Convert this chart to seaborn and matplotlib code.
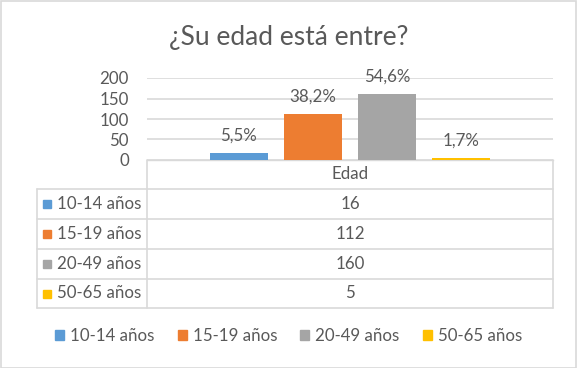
"""Edad de los encuestados: barras con tabla de datos estilo Excel"""

import matplotlib as mpl
import matplotlib.pyplot as plt
import pandas as pd
import seaborn as sns
from matplotlib.lines import Line2D
from matplotlib.patches import Patch, Rectangle

titulo = "¿Su edad está entre?"
grupo = "Edad"
rangos = ["10-14 años", "15-19 años", "20-49 años", "50-65 años"]
conteos = [16, 112, 160, 5]
etiquetas = ["5,5%", "38,2%", "54,6%", "1,7%"]
colores = ["#5B9BD5", "#ED7D31", "#A5A5A5", "#FFC000"]
yticks = [0, 50, 100, 150, 200]

TXT = "#595959"
GRID = "#D9D9D9"
W, H = 577, 368
FS = 12.2

sns.set_theme(style="white")
plt.rcParams["font.family"] = ["Lato", "DejaVu Sans"]


def fx(x):
    return x / W


def fy(y):
    return 1 - y / H


df = pd.DataFrame({"grupo": [grupo] * len(rangos), "rango": rangos, "n": conteos})

fig = plt.figure(figsize=(W / 100, H / 100), dpi=100)
fig.patch.set_facecolor("white")
fig.patches.append(
    Rectangle((0.5 / W, 0.5 / H), 1 - 1.5 / W, 1 - 1.5 / H, transform=fig.transFigure,
              fill=False, edgecolor=GRID, lw=1.2)
)

# area de trazado
ax = fig.add_axes([fx(147), fy(160), (553 - 147) / W, (160 - 78) / H])
sns.barplot(df, x="grupo", y="n", hue="rango", palette=colores, width=0.73, gap=0.22,
            saturation=1, ax=ax, legend=False, zorder=3, linewidth=0, edgecolor="none")
ax.set_ylim(0, 200)
ax.set_xlim(-0.5, 0.5)
ax.set_yticks(yticks)
ax.set_yticklabels([str(t) for t in yticks], fontsize=FS, color=TXT)
ax.tick_params(axis="y", length=0, pad=13)
ax.set_xticks([])
ax.set_xlabel("")
ax.set_ylabel("")
ax.yaxis.grid(True, color=GRID, lw=1.2)
ax.set_axisbelow(True)
for s in ["left", "right", "top"]:
    ax.spines[s].set_visible(False)
ax.spines["bottom"].set_color(GRID)
ax.spines["bottom"].set_linewidth(1.0)
ax.spines["bottom"].set_zorder(1)
for p in ax.patches:
    p.set_clip_on(False)

for cont, lab in zip(ax.containers, etiquetas):
    ax.bar_label(cont, labels=[lab], padding=7, fontsize=FS, color=TXT)

fig.text(0.5, fy(38), titulo, ha="center", va="center", fontsize=19, color=TXT)

# tabla de datos
filas = [189, 219, 249, 279, 308]
for y in filas:
    fig.lines.append(Line2D([fx(37), fx(553)], [fy(y), fy(y)], transform=fig.transFigure,
                            color=GRID, lw=1.2))
for x, y0 in [(37, 189), (147, 160), (553, 160)]:
    fig.lines.append(Line2D([fx(x), fx(x)], [fy(y0), fy(308)], transform=fig.transFigure,
                            color=GRID, lw=1.2))

fig.text(fx(350), fy(174), grupo, ha="center", va="center", fontsize=FS, color=TXT)
for i, (r, n, c) in enumerate(zip(rangos, conteos, colores)):
    yc = (filas[i] + filas[i + 1]) / 2
    fig.patches.append(Rectangle((fx(43), fy(yc + 4)), 8 / W, 8 / H,
                                 transform=fig.transFigure, color=c))
    fig.text(fx(57), fy(yc), r, ha="left", va="center", fontsize=FS, color=TXT)
    fig.text(fx(350), fy(yc), str(n), ha="center", va="center", fontsize=FS, color=TXT)

# leyenda
handles = [Patch(facecolor=c, edgecolor=c) for c in colores]
fig.legend(handles, rangos, loc="center", bbox_to_anchor=(0.5, fy(336)), ncol=4,
           frameon=False, fontsize=FS, labelcolor=TXT, handlelength=0.55,
           handleheight=0.55, handletextpad=0.35, columnspacing=1.35)

fig.savefig("out.png", dpi=100)
